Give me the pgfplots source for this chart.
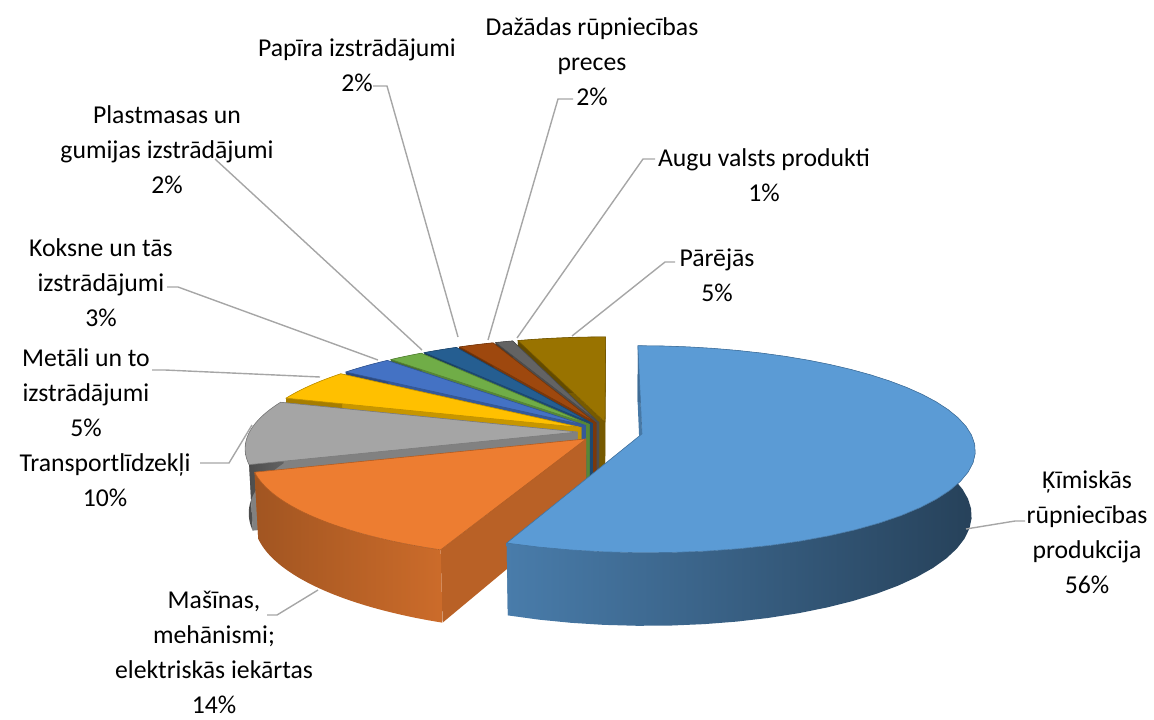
\documentclass[border=0pt]{standalone}
\usepackage{pgfplots}
\pgfplotsset{compat=1.18}
\usepackage{fontspec}
\setmainfont{Carlito}
\definecolor{cBlue}{HTML}{5B9BD5}
\definecolor{cOrange}{HTML}{ED7D31}
\definecolor{cGray}{HTML}{A5A5A5}
\definecolor{cGold}{HTML}{FFC000}
\definecolor{cBlueB}{HTML}{4472C4}
\definecolor{cGreen}{HTML}{70AD47}
\definecolor{cDBlue}{HTML}{255E91}
\definecolor{cDOrange}{HTML}{9E480E}
\definecolor{cDGray}{HTML}{636363}
\definecolor{cDGold}{HTML}{997300}
\definecolor{leader}{HTML}{A6A6A6}
\newcommand\lbl{\fontsize{12.85}{17.5}\selectfont}
% one exploded 3-D slice from angle #1 to angle #2 (degrees, counter-clockwise)
% #3 colour, #4/#5 wall shade mix (left/right)
\newcommand\slice[5]{%
 \addplot[fill=#3!78!black, draw=none, samples at={0,1,2,3}, variable=\k]
  ({PX(ex(#1,#2)+fr(\k)*cos(#1), ey(#1,#2)+fr(\k)*sin(#1), fz(\k))},
   {PY(ex(#1,#2)+fr(\k)*cos(#1), ey(#1,#2)+fr(\k)*sin(#1), fz(\k))});
 \addplot[fill=#3!78!black, draw=none, samples at={0,1,2,3}, variable=\k]
  ({PX(ex(#1,#2)+fr(\k)*cos(#2), ey(#1,#2)+fr(\k)*sin(#2), fz(\k))},
   {PY(ex(#1,#2)+fr(\k)*cos(#2), ey(#1,#2)+fr(\k)*sin(#2), fz(\k))});
 \addplot[left color=#3!#4!black, right color=#3!#5!black, draw=none, domain=0:2.05, samples=83, variable=\s]
  ({PX(ex(#1,#2)+cos(wt(#1,#2,\s)), ey(#1,#2)+sin(wt(#1,#2,\s)), wz(\s))},
   {PY(ex(#1,#2)+cos(wt(#1,#2,\s)), ey(#1,#2)+sin(wt(#1,#2,\s)), wz(\s))});
 \addplot[fill=#3, draw=#3!75!black, line width=0.3pt, domain=-0.025:1.025, samples=43, variable=\s]
  ({PX(ex(#1,#2)+rr(\s)*cos(tt(#1,#2,\s)), ey(#1,#2)+rr(\s)*sin(tt(#1,#2,\s)), 0)},
   {PY(ex(#1,#2)+rr(\s)*cos(tt(#1,#2,\s)), ey(#1,#2)+rr(\s)*sin(tt(#1,#2,\s)), 0)});
}
\begin{document}
\begin{tikzpicture}
\useasboundingbox (0,0) rectangle (577pt,359.5pt);
\begin{axis}[
 at={(0,0)}, anchor=south west,
 width=577pt, height=359.5pt, scale only axis,
 xmin=0, xmax=1154, ymin=0, ymax=719,
 hide axis, clip=false,
 declare function={
  PX(\Xx,\Yy,\Zz)=610+328*\Xx*6.44/(6.44+\Yy*0.9517-\Zz*0.307);
  PY(\Xx,\Yy,\Zz)=287+328*(\Yy*0.307+\Zz*0.9517)*6.44/(6.44+\Yy*0.9517-\Zz*0.307);
  ex(\Aa,\Bb)=0.099*cos((\Aa+\Bb)/2);
  ey(\Aa,\Bb)=0.099*sin((\Aa+\Bb)/2);
  cl(\Ss)=min(max(\Ss,0),1);
  rr(\Ss)=((\Ss < -0.01) || (\Ss > 1.01)) ? 0 : 1;
  tt(\Aa,\Bb,\Ss)=\Aa+(\Bb-\Aa)*cl(\Ss);
  wt(\Aa,\Bb,\Ss)=(\Ss < 1.0125) ? \Aa+(\Bb-\Aa)*min(\Ss,1) : \Aa+(\Bb-\Aa)*cl(2.05-\Ss);
  wz(\Ss)=(\Ss < 1.0125) ? 0 : -0.205;
  fr(\Ss)=((\Ss > 0.5) && (\Ss < 2.5)) ? 1 : 0;
  fz(\Ss)=(\Ss > 1.5) ? -0.205 : 0;
 },
]
% shares (%): 56, 14, 10, 5, 3, 2, 2, 2, 1, 5 -> clockwise from 12 o'clock
\slice{90}{108}{cDGold}{65}{65}        % Pārējās 5
\slice{108}{111.6}{cDGray}{65}{65}     % Augu valsts produkti 1
\slice{111.6}{118.8}{cDOrange}{65}{65} % Dažādas 2
\slice{118.8}{126}{cDBlue}{65}{65}     % Papīra 2
\slice{126}{133.2}{cGreen}{65}{65}     % Plastmasas 2
\slice{133.2}{144}{cBlueB}{65}{65}     % Koksne 3
\slice{144}{162}{cGold}{65}{65}        % Metāli 5
\slice{162}{198}{cGray}{45}{60}        % Transportlīdzekļi 10
\slice{198}{248.4}{cOrange}{68}{86}    % Mašīnas 14
\slice{248.4}{450}{cBlue}{80}{42}      % Ķīmiskās 56

% leader lines
\addplot[leader, line width=0.7pt] coordinates {(966,190) (1015,198) (1025,198)};
\addplot[leader, line width=0.7pt] coordinates {(318,129) (277,104) (267,104)};
\addplot[leader, line width=0.7pt] coordinates {(252,294) (229,256) (200,256)};
\addplot[leader, line width=0.7pt] coordinates {(152,349) (165,349) (320,342)};
\addplot[leader, line width=0.7pt] coordinates {(167,432) (178,432) (378,359)};
\addplot[leader, line width=0.7pt] coordinates {(215,560) (422,369)};
\addplot[leader, line width=0.7pt] coordinates {(373,633) (387,633) (458,382)};
\addplot[leader, line width=0.7pt] coordinates {(573,620) (558,620) (488,379)};
\addplot[leader, line width=0.7pt] coordinates {(655,560) (643,560) (517,381)};
\addplot[leader, line width=0.7pt] coordinates {(675,457) (665,457) (572,383)};

% labels
\node[align=center, font=\lbl] at (axis cs:1087,187) {Ķīmiskās\\rūpniecības\\produkcija\\56\%};
\node[align=center, font=\lbl] at (axis cs:214,67) {Mašīnas,\\mehānismi;\\elektriskās iekārtas\\14\%};
\node[align=center, font=\lbl] at (axis cs:105,239) {Transportlīdzekļi\\10\%};
\node[align=center, font=\lbl] at (axis cs:86,326) {Metāli un to\\izstrādājumi\\5\%};
\node[align=center, font=\lbl] at (axis cs:101,436) {Koksne un tās\\izstrādājumi\\3\%};
\node[align=center, font=\lbl] at (axis cs:167,569) {Plastmasas un\\gumijas izstrādājumi\\2\%};
\node[align=center, font=\lbl] at (axis cs:357,654) {Papīra izstrādājumi\\2\%};
\node[align=center, font=\lbl] at (axis cs:592,657) {Dažādas rūpniecības\\preces\\2\%};
\node[align=center, font=\lbl] at (axis cs:764,544) {Augu valsts produkti\\1\%};
\node[align=center, font=\lbl] at (axis cs:717,444) {Pārējās\\5\%};
\end{axis}
\end{tikzpicture}
\end{document}
